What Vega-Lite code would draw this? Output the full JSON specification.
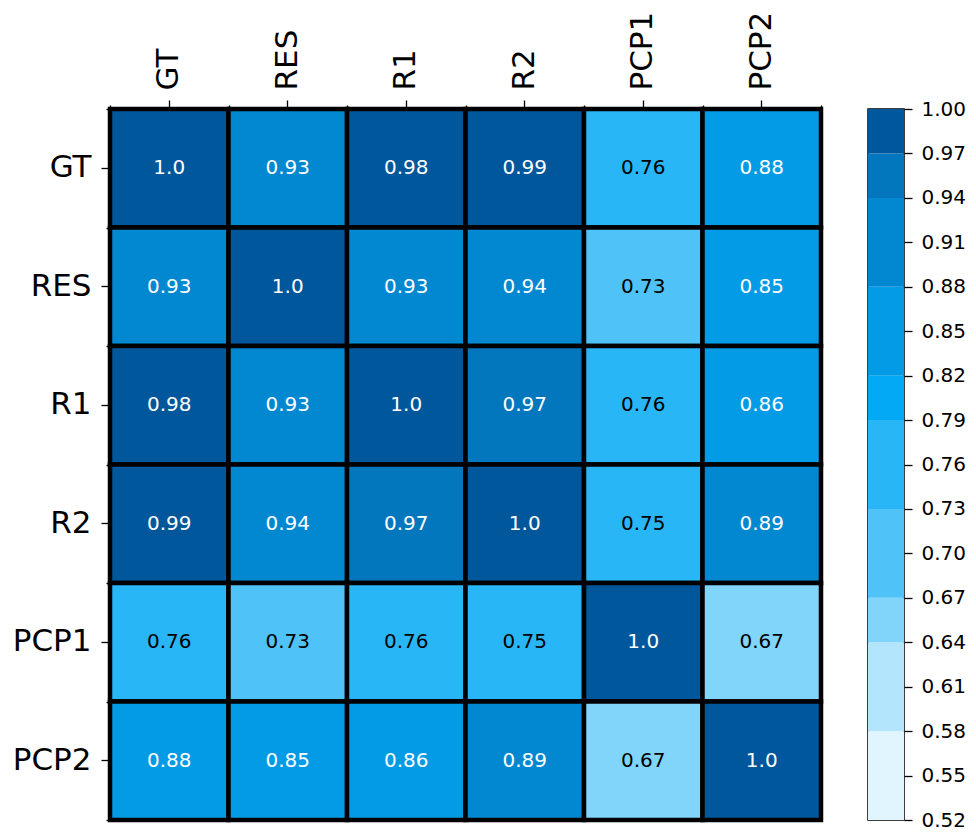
{
  "$schema": "https://vega.github.io/schema/vega-lite/v6.json",
  "padding": {"left": 11, "top": 10, "right": 5, "bottom": 5},
  "background": "white",
  "datasets": {
    "corr": [
      {"r": "GT", "c": "GT", "v": 1.0}, {"r": "GT", "c": "RES", "v": 0.93}, {"r": "GT", "c": "R1", "v": 0.98}, {"r": "GT", "c": "R2", "v": 0.99}, {"r": "GT", "c": "PCP1", "v": 0.76}, {"r": "GT", "c": "PCP2", "v": 0.879},
      {"r": "RES", "c": "GT", "v": 0.93}, {"r": "RES", "c": "RES", "v": 1.0}, {"r": "RES", "c": "R1", "v": 0.93}, {"r": "RES", "c": "R2", "v": 0.939}, {"r": "RES", "c": "PCP1", "v": 0.727}, {"r": "RES", "c": "PCP2", "v": 0.85},
      {"r": "R1", "c": "GT", "v": 0.98}, {"r": "R1", "c": "RES", "v": 0.93}, {"r": "R1", "c": "R1", "v": 1.0}, {"r": "R1", "c": "R2", "v": 0.968}, {"r": "R1", "c": "PCP1", "v": 0.76}, {"r": "R1", "c": "PCP2", "v": 0.86},
      {"r": "R2", "c": "GT", "v": 0.99}, {"r": "R2", "c": "RES", "v": 0.939}, {"r": "R2", "c": "R1", "v": 0.968}, {"r": "R2", "c": "R2", "v": 1.0}, {"r": "R2", "c": "PCP1", "v": 0.75}, {"r": "R2", "c": "PCP2", "v": 0.89},
      {"r": "PCP1", "c": "GT", "v": 0.76}, {"r": "PCP1", "c": "RES", "v": 0.727}, {"r": "PCP1", "c": "R1", "v": 0.76}, {"r": "PCP1", "c": "R2", "v": 0.75}, {"r": "PCP1", "c": "PCP1", "v": 1.0}, {"r": "PCP1", "c": "PCP2", "v": 0.668},
      {"r": "PCP2", "c": "GT", "v": 0.879}, {"r": "PCP2", "c": "RES", "v": 0.85}, {"r": "PCP2", "c": "R1", "v": 0.86}, {"r": "PCP2", "c": "R2", "v": 0.89}, {"r": "PCP2", "c": "PCP1", "v": 0.668}, {"r": "PCP2", "c": "PCP2", "v": 1.0}
    ],
    "bins": [
      {"lo": 0.52, "hi": 0.58}, {"lo": 0.58, "hi": 0.64}, {"lo": 0.64, "hi": 0.67}, {"lo": 0.67, "hi": 0.73}, {"lo": 0.73, "hi": 0.79},
      {"lo": 0.79, "hi": 0.82}, {"lo": 0.82, "hi": 0.88}, {"lo": 0.88, "hi": 0.94}, {"lo": 0.94, "hi": 0.97}, {"lo": 0.97, "hi": 1.0}
    ]
  },
  "spacing": 43,
  "hconcat": [
    {
      "width": 711,
      "height": 711,
      "data": {"name": "corr"},
      "layer": [
        {
          "mark": {"type": "rect", "stroke": "black", "strokeWidth": 4.5},
          "encoding": {
            "x": {"field": "c", "type": "nominal", "sort": ["GT", "RES", "R1", "R2", "PCP1", "PCP2"], "scale": {"paddingInner": 0, "paddingOuter": 0},
                  "axis": {"orient": "top", "title": null, "labelAngle": -90, "labelFontSize": 31, "tickSize": 9, "labelPadding": 10}},
            "y": {"field": "r", "type": "nominal", "sort": ["GT", "RES", "R1", "R2", "PCP1", "PCP2"], "scale": {"paddingInner": 0, "paddingOuter": 0},
                  "axis": {"orient": "left", "title": null, "labelAngle": 0, "labelFontSize": 31, "tickSize": 9, "labelPadding": 10}},
            "color": {"field": "v", "type": "quantitative", "legend": null,
                      "scale": {"type": "threshold", "domain": [0.58, 0.64, 0.67, 0.73, 0.79, 0.82, 0.88, 0.94, 0.97],
                                "range": ["#E1F5FE", "#B3E5FC", "#81D4FA", "#4FC3F7", "#29B6F6", "#03A9F4", "#039BE5", "#0288D1", "#0277BD", "#01579B"]}}
          }
        },
        {
          "mark": {"type": "text", "fontSize": 20, "font": "DejaVu Sans"},
          "encoding": {
            "x": {"field": "c", "type": "nominal", "sort": ["GT", "RES", "R1", "R2", "PCP1", "PCP2"],
                  "axis": {"orient": "top", "title": null, "labels": false, "tickSize": 4, "tickBand": "extent"}},
            "y": {"field": "r", "type": "nominal", "sort": ["GT", "RES", "R1", "R2", "PCP1", "PCP2"],
                  "axis": {"orient": "left", "title": null, "labels": false, "tickSize": 4, "tickBand": "extent"}},
            "text": {"field": "v", "type": "quantitative", "format": ".2g"},
            "color": {"condition": {"test": "datum.v >= 0.79", "value": "white"}, "value": "black"}
          }
        }
      ],
      "resolve": {"axis": {"x": "independent", "y": "independent"}}
    },
    {
      "width": 36,
      "height": 711,
      "data": {"name": "bins"},
      "mark": {"type": "rect"},
      "encoding": {
        "y": {"field": "lo", "type": "quantitative", "scale": {"domain": [0.52, 1.0], "nice": false, "zero": false},
              "axis": {"orient": "right", "title": null, "grid": false, "domain": false, "format": ".2f",
                       "values": [0.52, 0.55, 0.58, 0.61, 0.64, 0.67, 0.7, 0.73, 0.76, 0.79, 0.82, 0.85, 0.88, 0.91, 0.94, 0.97, 1.0],
                       "labelFontSize": 20, "tickSize": 8, "labelPadding": 9}},
        "y2": {"field": "hi"},
        "color": {"field": "lo", "type": "quantitative", "legend": null,
                  "scale": {"type": "threshold", "domain": [0.58, 0.64, 0.67, 0.73, 0.79, 0.82, 0.88, 0.94, 0.97],
                            "range": ["#E1F5FE", "#B3E5FC", "#81D4FA", "#4FC3F7", "#29B6F6", "#03A9F4", "#039BE5", "#0288D1", "#0277BD", "#01579B"]}}
      }
    }
  ],
  "config": {
    "view": {"stroke": "black", "strokeWidth": 1.5},
    "axis": {"labelFont": "DejaVu Sans", "labelColor": "black", "tickColor": "black", "tickWidth": 1.3, "domain": false, "grid": false, "labelOverlap": false}
  }
}
